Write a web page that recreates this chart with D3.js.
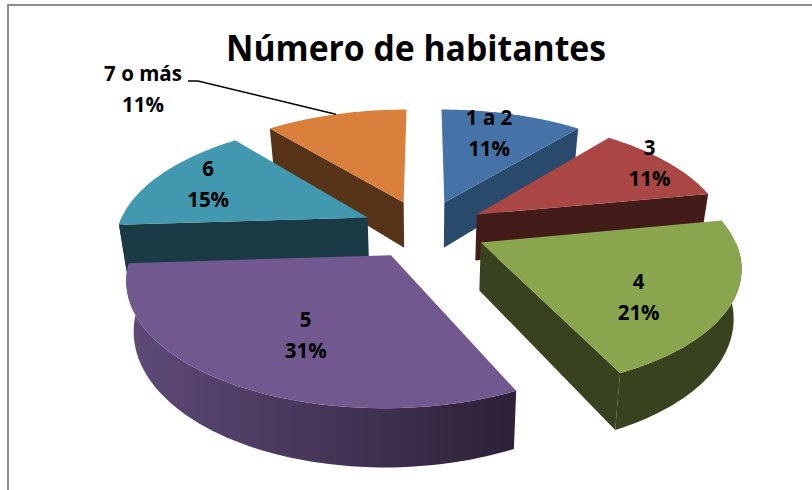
<!DOCTYPE html>
<html>
<head>
<meta charset="utf-8">
<script src="https://cdn.jsdelivr.net/npm/d3@7"></script>
<style>
html,body{margin:0;padding:0;background:#fff;}
svg{display:block;}
text{font-family:"Open Sans","Noto Sans",sans-serif;font-weight:700;fill:#000;}
</style>
</head>
<body>
<svg id="chart" width="812" height="490"></svg>
<script>
const titleText = "Número de habitantes";
const categories = ["1 a 2","3","4","5","6","7 o más"];
const values = [11,11,21,31,15,11];
const topColors = ["#4572a7","#aa4643","#89a54e","#71588f","#4198af","#d8803c"];
const wallColors = ["#2a4a6b","#431c1a","#38421e","#2c2138","#1a3a46","#573318"];
const rimLight = ["#2a4a6b","#431c1a","#38421e","#5f4a78","#1a3a46","#573318"];
const paintOrder = [5,0,4,1,2,3];
const labelR = [0.72,0.78,0.6,0.55,0.72,1];
const labelNudge = [[-6,-3],[22,-9],[12,21],[-3,16],[-7,-2],[0,0]];

const W=812,H=490;
const cx=424, cy=229, Rx=250, Ry=117, k=0.17, e=0.25, depth=47, shrink=0.025;
const svg=d3.select("#chart");

const pie=d3.pie().sort(null).value(d=>d);
const arcs=pie(values);

function project(arc,a,r,z){
  const mid=(arc.startAngle+arc.endAngle)/2;
  const X=Math.sin(a)*r+Math.sin(mid)*e;
  const Y=-Math.cos(a)*r-Math.cos(mid)*e;
  const s=1/(1-k*Y);
  return [cx+Rx*X*s*(1-shrink*z), cy+Ry*Y*s+depth*s*z];
}
const line=d3.line();
const defs=svg.append("defs");

// frame
svg.append("path").attr("d",line([[8,490],[8,5],[812,5]])).attr("fill","none").attr("stroke","#8c8c8c").attr("stroke-width",2);

function rimPts(arc,a0,a1,z,n=60){
  return d3.range(n+1).map(i=>project(arc,a0+(a1-a0)*i/n,1,z));
}

paintOrder.forEach(i=>{
  const arc=arcs[i];
  const a0=arc.startAngle,a1=arc.endAngle;
  const g=svg.append("g");
  // radial wall
  const wallAngle=(Math.sin(a1)>0 && a1<Math.PI*1.0001)?a1:(Math.sin(a0)<0?a0:null);
  if(wallAngle!==null){
    const edge=[project(arc,wallAngle,0,0),project(arc,wallAngle,1,0),project(arc,wallAngle,1,1),project(arc,wallAngle,0,1)];
    g.append("path").attr("d",line(edge)+"Z").attr("fill",wallColors[i]);
  }
  // rim wall on front half only
  const f0=Math.max(a0,Math.PI/2), f1=Math.min(a1,Math.PI*1.5);
  if(f1>f0){
    const top=rimPts(arc,f0,f1,0), bot=rimPts(arc,f0,f1,1).reverse();
    const xs=top.map(p=>p[0]);
    const id="rim"+i;
    const lg=defs.append("linearGradient").attr("id",id).attr("gradientUnits","userSpaceOnUse")
      .attr("x1",d3.min(xs)).attr("x2",d3.max(xs)).attr("y1",0).attr("y2",0);
    lg.append("stop").attr("offset",0).attr("stop-color",rimLight[i]);
    lg.append("stop").attr("offset",1).attr("stop-color",wallColors[i]);
    g.append("path").attr("d",line(top.concat(bot))+"Z").attr("fill",`url(#${id})`);
  }
  // top face
  const face=[project(arc,0,0,0)].concat(rimPts(arc,a0,a1,0));
  g.append("path").attr("d",line(face)+"Z").attr("fill",topColors[i]);
});

// title
svg.append("text").attr("x",416).attr("y",61).attr("text-anchor","middle").attr("font-size",36)
  .attr("textLength",380).attr("lengthAdjust","spacingAndGlyphs").text(titleText);

// labels
const pct=d3.format(".0%");
const total=d3.sum(values);
const labelPos=arcs.map((arc,i)=>{
  const mid=(arc.startAngle+arc.endAngle)/2;
  const p=project(arc,mid,labelR[i],0);
  return [p[0]+labelNudge[i][0],p[1]+labelNudge[i][1]];
});
labelPos[5]=[143,90];
arcs.forEach((arc,i)=>{
  const [x,y]=labelPos[i];
  const t=svg.append("text").attr("text-anchor","middle").attr("font-size",20.5);
  t.append("tspan").attr("x",x).attr("y",y-9).text(categories[i]);
  t.append("tspan").attr("x",x).attr("y",y+22).text(pct(values[i]/total));
});

// leader line
const a6=arcs[5];
const endPt=project(a6,(a6.startAngle+a6.endAngle)/2,1,0);
svg.append("path").attr("d",line([[188,81],[198,81],endPt])).attr("fill","none").attr("stroke","#000").attr("stroke-width",1.6);
</script>
</body>
</html>
